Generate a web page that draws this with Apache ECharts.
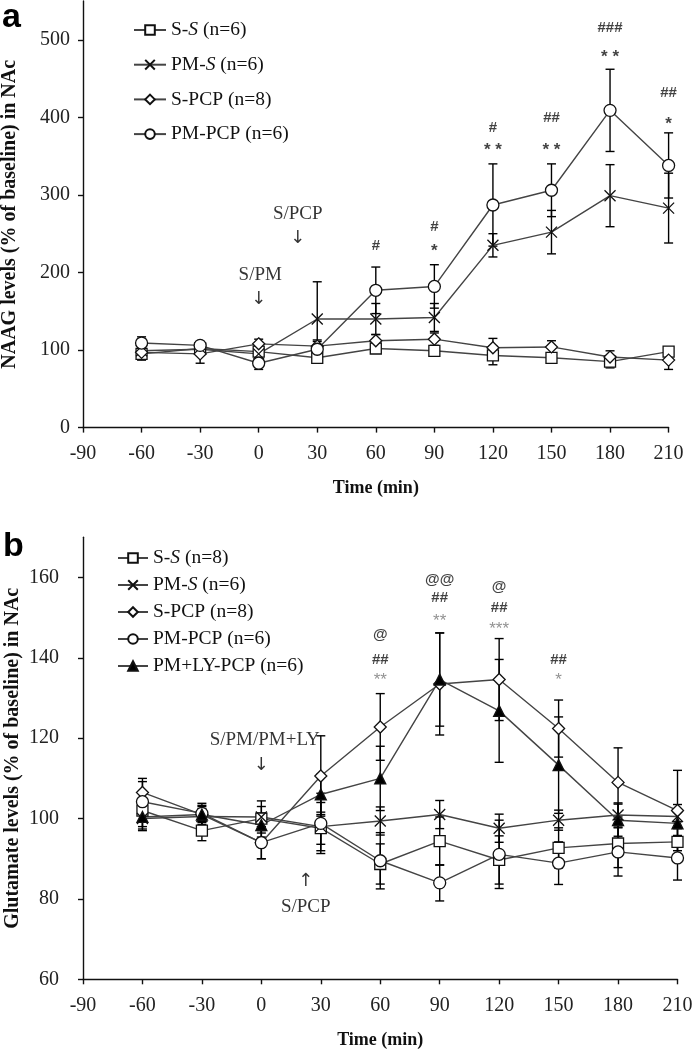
<!DOCTYPE html>
<html>
<head>
<meta charset="utf-8">
<script src="https://cdn.jsdelivr.net/npm/echarts@6/dist/echarts.min.js"></script>
<style>
html, body { margin: 0; padding: 0; background: #fff; }
#chart { width: 693px; height: 1050px; }
</style>
</head>
<body>
<div id="chart"></div>
<script>
var times = [-60, -30, 0, 30, 60, 90, 120, 150, 180, 210];
var yTicksA = [0, 100, 200, 300, 400, 500];
var yTicksB = [60, 80, 100, 120, 140, 160];

// panel a - NAAG
var naagSS = [95, 102, 98, 90, 102, 99, 93, 90, 85, 98];
var naagSSErr = [8, 5, 5, 6, 6, 5, 12, 6, 8, 5];
var naagPMS = [99, 101, 95, 140, 140, 142, 235, 252, 299, 283];
var naagPMSErr = [6, 5, 8, 48, 20, 18, 15, 28, 40, 45];
var naagSPCP = [97, 95, 108, 105, 112, 114, 103, 104, 91, 87];
var naagSPCPErr = [6, 12, 6, 6, 8, 8, 12, 8, 8, 12];
var naagPMPCP = [109, 106, 83, 101, 177, 182, 287, 306, 409, 338];
var naagPMPCPErr = [8, 5, 8, 12, 30, 28, 53, 34, 53, 42];

// panel b - glutamate
var gluSS = [102, 97, 100, 97.6, 88.7, 94.4, 89.7, 92.7, 93.8, 94.2];
var gluSSErr = [4, 2.5, 3, 4, 5, 6, 6, 5, 6, 5];
var gluPMS = [100, 100.5, 100.4, 98, 99.4, 101, 97.6, 99.6, 100.9, 100.5];
var gluPMSErr = [3, 2, 4, 6, 3.5, 3.5, 3.5, 2.5, 3, 3];
var gluSPCP = [106.5, 101, 94, 110.6, 122.8, 133.5, 134.6, 122.4, 109, 102];
var gluSPCPErr = [3.5, 2, 4, 10, 8.3, 12.7, 10.2, 7.1, 8.6, 10];
var gluPMPCP = [104.2, 101.3, 94, 98.8, 89.5, 84, 91.1, 88.9, 91.7, 90.2];
var gluPMPCPErr = [5, 2, 4, 7.5, 7, 4.5, 8.5, 5.3, 6, 5.5];
var gluLY = [100.4, 101, 98.4, 106, 110, 134.6, 126.8, 113.3, 99.6, 98.8];
var gluLYErr = [3, 2.8, 3, 5, 8, 11.6, 12.8, 12, 4, 3];

// significance marks [time, level, text]
var hashA = [[60, 234, '#'], [90, 259, '#'], [120, 386, '#'], [150, 399, '##'], [180, 515, '###'], [210, 431, '##']];
var starA = [[90, 233, '*'], [120, 363, '* *'], [150, 363, '* *'], [180, 482, '* *'], [210, 396, '*']];
var atB = [[60, 145.6, '@'], [90, 159.5, '@@'], [120, 157.7, '@']];
var hashB = [[60, 139.4, '##'], [90, 155, '##'], [120, 152.5, '##'], [150, 139.4, '##']];
var starB = [[60, 135.3, '**'], [90, 150, '**'], [120, 148.1, '***'], [150, 135.4, '*']];
// injection labels and arrows
var notesA = [[20, 276, 'S/PCP'], [0.8, 196.6, 'S/PM']];
var arrowsA = [[20, 244, '\u2193'], [0, 165, '\u2193']];
var notesB = [[1.7, 119.5, 'S/PM/PM+LY'], [22.4, 78.1, 'S/PCP']];
var arrowsB = [[0, 113.3, '\u2193'], [22.4, 84.3, '\u2191']];

var serif = 'Liberation Serif';
var crossPath = 'path://M0,0L10,10M0,10L10,0';

var myChart = echarts.init(document.getElementById('chart'));

function pts(vals) {
	var d = [];
	for (var i = 0; i < times.length; i++) {
		d.push([times[i], vals[i]]);
	}
	return d;
}

function errData(vals, errs) {
	var d = [];
	for (var i = 0; i < times.length; i++) {
		d.push([times[i], vals[i] - errs[i], vals[i] + errs[i]]);
	}
	return d;
}

function renderErr(params, api) {
	var x = api.value(0);
	var lo = api.coord([x, api.value(1)]);
	var hi = api.coord([x, api.value(2)]);
	var w = 4.5;
	var st = { stroke: '#000', lineWidth: 1.4 };
	return {
		type: 'group',
		children: [
			{ type: 'line', shape: { x1: hi[0], y1: hi[1], x2: lo[0], y2: lo[1] }, style: st },
			{ type: 'line', shape: { x1: hi[0] - w, y1: hi[1], x2: hi[0] + w, y2: hi[1] }, style: st },
			{ type: 'line', shape: { x1: lo[0] - w, y1: lo[1], x2: lo[0] + w, y2: lo[1] }, style: st }
		]
	};
}

function errSeries(vals, errs, gi) {
	return {
		type: 'custom',
		xAxisIndex: gi,
		yAxisIndex: gi,
		renderItem: renderErr,
		encode: { x: 0, y: [1, 2] },
		data: errData(vals, errs),
		silent: true,
		z: 1
	};
}

function lineSeries(name, vals, sym, size, fill, gi) {
	return {
		name: name,
		type: 'line',
		xAxisIndex: gi,
		yAxisIndex: gi,
		data: pts(vals),
		symbol: sym,
		symbolSize: size,
		showAllSymbol: true,
		lineStyle: { color: '#444', width: 1.4 },
		itemStyle: { color: fill, borderColor: '#111', borderWidth: 1.3 },
		emphasis: { disabled: true },
		z: 3
	};
}

function textSeries(data, gi, font, color, offset) {
	return {
		type: 'scatter',
		xAxisIndex: gi,
		yAxisIndex: gi,
		data: data,
		symbolSize: 1,
		itemStyle: { color: 'transparent' },
		silent: true,
		z: 5,
		label: {
			show: true,
			position: 'inside',
			offset: offset || [0, 0],
			formatter: function (p) { return p.value[2]; },
			fontFamily: font.family,
			fontSize: font.size,
			fontWeight: font.weight,
			color: color,
			textBorderWidth: 0
		}
	};
}

function legendFmt(name) {
	var m = name.match(/^(.*-)S( \(.*)$/);
	if (m) {
		return '{t|' + m[1] + '}{i|S}{t|' + m[2] + '}';
	}
	return '{t|' + name + '}';
}

var legendRich = {
	t: { fontFamily: serif, fontSize: 19.5, color: '#111', lineHeight: 20 },
	i: { fontFamily: serif, fontSize: 19.5, fontStyle: 'italic', color: '#111', lineHeight: 20 }
};

function xAxisFor(gi) {
	return {
		type: 'value',
		gridIndex: gi,
		min: -90,
		max: 210,
		interval: 30,
		name: 'Time (min)',
		nameLocation: 'middle',
		nameGap: 52,
		nameMoveOverlap: false,
		nameTextStyle: { fontFamily: serif, fontSize: 18, fontWeight: 'bold', color: '#111' },
		axisLine: { onZero: false, lineStyle: { color: '#111', width: 1.4 } },
		axisTick: { length: 5, lineStyle: { color: '#111', width: 1.4 } },
		axisLabel: { margin: 16, fontFamily: serif, fontSize: 20, color: '#222' },
		splitLine: { show: false }
	};
}

function yAxisFor(gi, min, max, interval, ticks, name, gap, lmargin) {
	return {
		type: 'value',
		gridIndex: gi,
		min: min,
		max: max,
		interval: interval,
		name: name,
		nameLocation: 'middle',
		nameGap: gap,
		nameMoveOverlap: false,
		nameTextStyle: { fontFamily: serif, fontSize: 20, fontWeight: 'bold', color: '#111' },
		axisLine: { show: true, onZero: false, lineStyle: { color: '#111', width: 1.4 } },
		axisTick: { show: true, length: 5, customValues: ticks, lineStyle: { color: '#111', width: 1.4 } },
		axisLabel: { margin: lmargin, customValues: ticks, fontFamily: serif, fontSize: 20, color: '#222' },
		splitLine: { show: false }
	};
}

var hashFont = { family: 'Liberation Sans', size: 15, weight: 'bold' };
var starFontA = { family: 'Liberation Sans', size: 17, weight: 'bold' };
var starFontB = { family: 'Liberation Sans', size: 17, weight: 'normal' };
var noteFont = { family: serif, size: 19, weight: 'normal' };
var arrowFont = { family: 'DejaVu Sans', size: 18, weight: 'normal' };

var option = {
	backgroundColor: '#fff',
	animation: false,
	grid: [
		{ left: 83, top: 1, width: 585.6, height: 426.6, outerBoundsMode: 'none' },
		{ left: 83, top: 537.3, width: 594.5, height: 442, outerBoundsMode: 'none' }
	],
	xAxis: [xAxisFor(0), xAxisFor(1)],
	yAxis: [
		yAxisFor(0, 0, 550, 100, yTicksA, 'NAAG levels (% of baseline) in NAc', 63, 13),
		yAxisFor(1, 60, 170, 20, yTicksB, 'Glutamate levels (% of baseline) in NAc', 60, 24)
	],
	legend: [{
		orient: 'vertical',
		left: 128,
		top: 15,
		itemWidth: 32,
		itemHeight: 12,
		itemGap: 14.7,
		selectedMode: false,
		formatter: legendFmt,
		textStyle: { rich: legendRich },
		data: ['S-S (n=6)', 'PM-S (n=6)', 'S-PCP (n=8)', 'PM-PCP (n=6)']
	}, {
		orient: 'vertical',
		left: 112,
		top: 543,
		itemWidth: 30,
		itemHeight: 12,
		itemGap: 7,
		selectedMode: false,
		formatter: legendFmt,
		textStyle: { rich: legendRich },
		data: ['S-S (n=8)', 'PM-S (n=6)', 'S-PCP (n=8)', 'PM-PCP (n=6)', 'PM+LY-PCP (n=6)']
	}],
	graphic: [
		{ type: 'text', x: 2, y: 18, style: { text: 'a', font: 'bold 34px "Liberation Sans"', fill: '#000', verticalAlign: 'middle' } },
		{ type: 'text', x: 3, y: 547, style: { text: 'b', font: 'bold 34px "Liberation Sans"', fill: '#000', verticalAlign: 'middle' } }
	],
	series: [
		errSeries(naagSS, naagSSErr, 0),
		errSeries(naagPMS, naagPMSErr, 0),
		errSeries(naagSPCP, naagSPCPErr, 0),
		errSeries(naagPMPCP, naagPMPCPErr, 0),
		lineSeries('S-S (n=6)', naagSS, 'rect', 11, '#fff', 0),
		lineSeries('PM-S (n=6)', naagPMS, crossPath, 11, '#fff', 0),
		lineSeries('S-PCP (n=8)', naagSPCP, 'diamond', 12, '#fff', 0),
		lineSeries('PM-PCP (n=6)', naagPMPCP, 'circle', 12, '#fff', 0),
		textSeries(hashA, 0, hashFont, '#111'),
		textSeries(starA, 0, starFontA, '#111', [0, 4]),
		textSeries(notesA, 0, noteFont, '#000'),
		textSeries(arrowsA, 0, arrowFont, '#000'),

		errSeries(gluSS, gluSSErr, 1),
		errSeries(gluPMS, gluPMSErr, 1),
		errSeries(gluSPCP, gluSPCPErr, 1),
		errSeries(gluPMPCP, gluPMPCPErr, 1),
		errSeries(gluLY, gluLYErr, 1),
		lineSeries('S-S (n=8)', gluSS, 'rect', 11, '#fff', 1),
		lineSeries('PM-S (n=6)', gluPMS, crossPath, 11, '#fff', 1),
		lineSeries('S-PCP (n=8)', gluSPCP, 'diamond', 12, '#fff', 1),
		lineSeries('PM-PCP (n=6)', gluPMPCP, 'circle', 12, '#fff', 1),
		lineSeries('PM+LY-PCP (n=6)', gluLY, 'triangle', 11, '#000', 1),
		textSeries(atB, 1, hashFont, '#111'),
		textSeries(hashB, 1, hashFont, '#111'),
		textSeries(starB, 1, starFontB, '#777', [0, 4]),
		textSeries(notesB, 1, noteFont, '#000'),
		textSeries(arrowsB, 1, arrowFont, '#000')
	]
};

myChart.setOption(option);
</script>
</body>
</html>
